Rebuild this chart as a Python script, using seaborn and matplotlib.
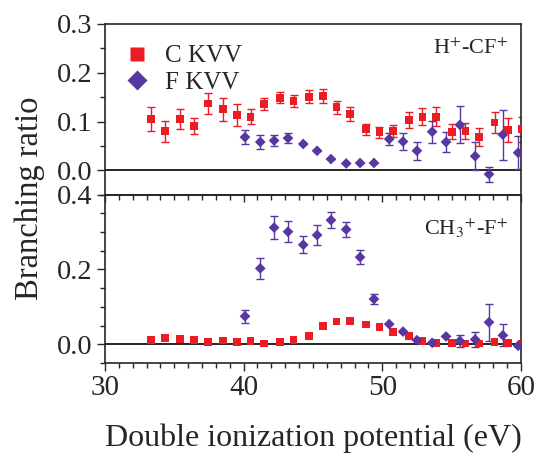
import numpy as np
import matplotlib
matplotlib.use('Agg')
import matplotlib.pyplot as plt
import seaborn as sns
from matplotlib.lines import Line2D
from matplotlib.ticker import MultipleLocator

# double ionization potential (eV)
x_c = [33.3, 34.3, 35.4, 36.4, 37.4, 38.5, 39.5, 40.5, 41.5, 42.6, 43.6, 44.7, 45.7,
       46.7, 47.7, 48.8, 49.8, 50.8, 51.9, 52.9, 53.9, 55.0, 56.0, 57.0, 58.1, 59.1, 60.05]
x_f = [40.1, 41.2, 42.2, 43.2, 44.3, 45.3, 46.3, 47.4, 48.4, 49.4,
       50.5, 51.5, 52.5, 53.6, 54.6, 55.6, 56.7, 57.7, 58.7, 59.8]

# H+-CF+ channel
top_c = [0.105, 0.080, 0.105, 0.091, 0.137, 0.125, 0.113, 0.110, 0.136, 0.149, 0.142, 0.151, 0.152,
         0.129, 0.116, 0.084, 0.078, 0.081, 0.103, 0.110, 0.110, 0.079, 0.080, 0.068, 0.098, 0.082, 0.084]
top_c_err = [0.024, 0.022, 0.020, 0.016, 0.022, 0.023, 0.022, 0.016, 0.013, 0.012, 0.012, 0.013, 0.014,
             0.014, 0.014, 0.011, 0.011, 0.012, 0.016, 0.017, 0.019, 0.015, 0.016, 0.018, 0.022, 0.025, 0.026]
top_f = [0.068, 0.058, 0.061, 0.066, 0.054, 0.040, 0.023, 0.014, 0.015, 0.015,
         0.064, 0.059, 0.040, 0.079, 0.058, 0.093, 0.029, -0.008, 0.073, 0.036]
top_f_err = [0.015, 0.014, 0.012, 0.011, 0.0, 0.0, 0.0, 0.0, 0.0, 0.0,
             0.013, 0.017, 0.018, 0.023, 0.020, 0.038, 0.029, 0.015, 0.051, 0.034]

# CH3+-F+ channel
bot_c = [0.012, 0.017, 0.014, 0.012, 0.005, 0.010, 0.006, 0.009, 0.002, 0.006, 0.012, 0.022, 0.050,
         0.061, 0.063, 0.053, 0.047, 0.034, 0.022, 0.009, 0.004, 0.004, 0.002, 0.002, 0.006, 0.004, 0.0]
bot_f = [0.075, 0.203, 0.312, 0.301, 0.266, 0.292, 0.332, 0.307, 0.233, 0.121,
         0.054, 0.034, 0.011, 0.004, 0.021, 0.009, 0.013, 0.059, 0.024, -0.004]
bot_f_err = [0.017, 0.028, 0.031, 0.028, 0.023, 0.026, 0.022, 0.021, 0.018, 0.014,
             0.0, 0.0, 0.0, 0.0, 0.0, 0.015, 0.020, 0.050, 0.029, 0.0]

red = '#EC1C24'
purple = '#5837A0'

sns.set_style('ticks')
plt.rcParams['font.family'] = ['Liberation Serif', 'DejaVu Serif']
plt.rcParams['mathtext.fontset'] = 'stix'

fig = plt.figure(figsize=(5.37, 4.57), dpi=100)
ax1 = fig.add_axes([0.1955, 0.574, 0.7745, 0.3735])
ax2 = fig.add_axes([0.1955, 0.2057, 0.7745, 0.3683])


def draw_panel(ax, yc, yc_err, yf, yf_err):
    if yc_err is not None:
        ax.errorbar(x_c, yc, yerr=yc_err, fmt='none', ecolor=red, elinewidth=1,
                    capsize=3, capthick=1, zorder=2)
    ax.errorbar(x_f, yf, yerr=yf_err, fmt='none', ecolor=purple, elinewidth=1,
                capsize=3, capthick=1, zorder=2)
    sns.scatterplot(x=x_c, y=yc, ax=ax, marker='s', s=32, color=red,
                    edgecolor='none', zorder=3)
    sns.scatterplot(x=x_f, y=yf, ax=ax, marker='D', s=30, color=purple,
                    edgecolor='none', zorder=4)
    ax.axhline(0, color='black', lw=1.2, zorder=1)
    ax.set_xlim(30, 60)
    for s in ax.spines.values():
        s.set_visible(True)
        s.set_linewidth(1.2)
    ax.yaxis.set_minor_locator(MultipleLocator(0.05))
    ax.tick_params(axis='y', which='major', direction='out', length=6, width=1,
                   labelsize=20.5, right=False, pad=3)
    ax.tick_params(axis='y', which='minor', direction='out', length=3.5, width=1, right=False)


draw_panel(ax1, top_c, top_c_err, top_f, top_f_err)
draw_panel(ax2, bot_c, None, bot_f, bot_f_err)

ax1.set_ylim(-0.05, 0.3)
ax1.set_yticks([0.0, 0.1, 0.2, 0.3])
ax1.set_yticklabels(['0.0', '0.1', '0.2', '0.3'])
ax1.tick_params(axis='x', which='both', bottom=False, top=False, labelbottom=False)

ax2.set_ylim(-0.05, 0.4)
ax2.set_yticks([0.0, 0.2, 0.4])
ax2.set_yticklabels(['0.0', '0.2', '0.4'])
ax2.set_xticks([30, 40, 50, 60])
ax2.xaxis.set_minor_locator(MultipleLocator(1))
ax2.tick_params(axis='x', which='major', direction='out', length=6, width=1,
                labelsize=21, top=False, pad=3)
ax2.tick_params(axis='x', which='minor', direction='out', length=3.5, width=1, top=False)
# inward ticks along the shared border
sec = ax2.secondary_xaxis('top')
sec.set_xticks([30, 40, 50, 60])
sec.xaxis.set_minor_locator(MultipleLocator(1))
sec.tick_params(axis='x', which='major', direction='in', length=5, width=1, labeltop=False)
sec.tick_params(axis='x', which='minor', direction='in', length=3.5, width=1)
sec.spines['top'].set_linewidth(1.2)

ax2.set_xlabel('Double ionization potential (eV)', fontsize=23, labelpad=16)
fig.text(0.055, 1 - 198 / 457, 'Branching ratio', rotation=90, fontsize=23.5,
         ha='center', va='center')

ax1.text(0.97, 0.855, r'H$^{+}$-CF$^{+}$', transform=ax1.transAxes, fontsize=16,
         ha='right', va='center')
ax2.text(0.97, 0.8, r'CH$_3$$^{+}$-F$^{+}$', transform=ax2.transAxes, fontsize=16,
         ha='right', va='center')

handles = [
    Line2D([], [], ls='none', marker='s', ms=10, color=red, mec='none'),
    Line2D([], [], ls='none', marker='D', ms=10, color=purple, mec='none'),
]
ax1.legend(handles, ['C KVV', 'F KVV'], loc='upper left', bbox_to_anchor=(-0.01, 1.01),
           frameon=False, fontsize=18, handletextpad=0.55, handlelength=1.1,
           labelspacing=0.15, borderaxespad=0.5)

fig.savefig('out.png', dpi=100)
